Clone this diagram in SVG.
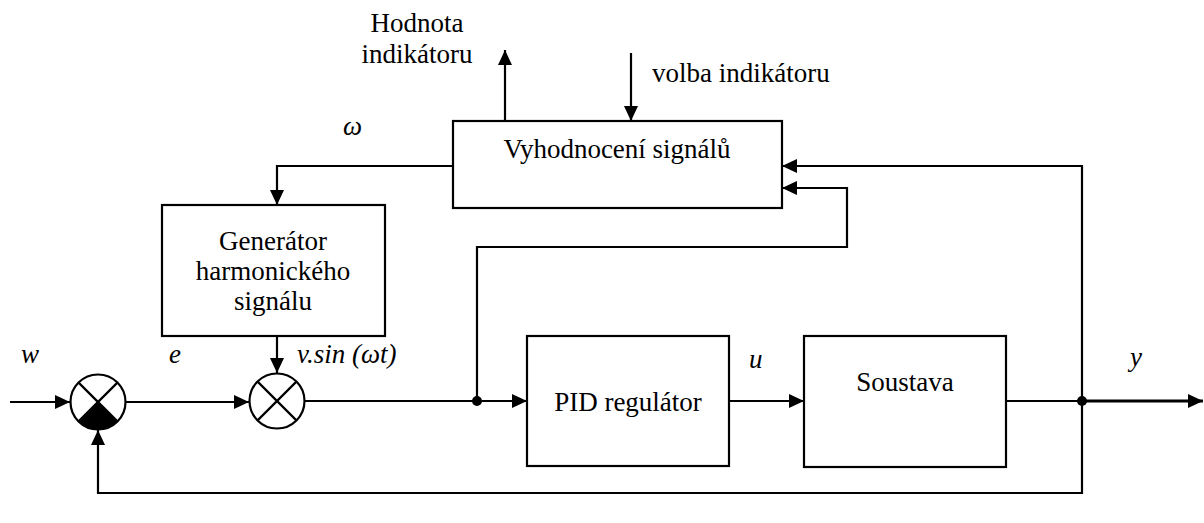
<svg xmlns="http://www.w3.org/2000/svg" width="1204" height="523" viewBox="0 0 1204 523">
<style>
.box{fill:#fff;stroke:#000;stroke-width:2.2}
.ln{fill:none;stroke:#000;stroke-width:2.2}
.t{font-family:'Liberation Serif','DejaVu Serif','Times New Roman',Times,serif;font-size:27px;fill:#000}
.i{font-family:'Liberation Serif','DejaVu Serif','Times New Roman',Times,serif;font-size:27px;font-style:italic;fill:#000}
</style>
<defs>
<marker id="ah" viewBox="0 0 15 14" refX="15" refY="7" markerWidth="15" markerHeight="14" markerUnits="userSpaceOnUse" orient="auto">
<path d="M0,0 L15,7 L0,14 Z" fill="#000"/>
</marker>
</defs>
<rect width="1204" height="523" fill="#fff"/>
<g id="connectors">
<path class="ln" d="M10,402 H70" marker-end="url(#ah)"/>
<path class="ln" d="M125,402 H249" marker-end="url(#ah)"/>
<path class="ln" d="M453,166 H277 V205" marker-end="url(#ah)"/>
<path class="ln" d="M277,336 V373" marker-end="url(#ah)"/>
<path class="ln" d="M304,401 H527" marker-end="url(#ah)"/>
<path class="ln" d="M477,401 V247 H847 V188 H782" marker-end="url(#ah)"/>
<path class="ln" d="M729,401 H804" marker-end="url(#ah)"/>
<path class="ln" d="M1006,401 H1082"/>
<path class="ln" d="M1082,401 H1203" style="stroke-width:3" marker-end="url(#ah)"/>
<path class="ln" d="M1082,401 V166 H782" marker-end="url(#ah)"/>
<path class="ln" d="M1082,401 V493 H98 V430" marker-end="url(#ah)"/>
<path class="ln" d="M505,121 V50" marker-end="url(#ah)"/>
<path class="ln" d="M631,53 V121" marker-end="url(#ah)"/>
<circle cx="477" cy="401" r="5" fill="#000"/>
<circle cx="1082" cy="401" r="5" fill="#000"/>
</g>
<g id="sum1">
<circle cx="98" cy="402" r="27.5" class="box"/>
<path d="M98,402 L78.6,421.4 A27.5,27.5 0 0 0 117.4,421.4 Z" fill="#000"/>
<path class="ln" d="M78.6,382.6 L117.4,421.4 M117.4,382.6 L78.6,421.4"/>
</g>
<g id="sum2">
<circle cx="277" cy="401" r="27.5" class="box"/>
<path class="ln" d="M257.6,381.6 L296.4,420.4 M296.4,381.6 L257.6,420.4"/>
</g>
<g id="vyhodnoceni">
<rect x="453" y="121" width="329" height="87" class="box"/>
<text class="t" x="617" y="158" text-anchor="middle">Vyhodnocení signálů</text>
</g>
<g id="generator">
<rect x="162" y="205" width="223" height="131" class="box"/>
<text class="t" x="273" y="250" text-anchor="middle">Generátor</text>
<text class="t" x="273" y="280" text-anchor="middle">harmonického</text>
<text class="t" x="273" y="310" text-anchor="middle">signálu</text>
</g>
<g id="pid">
<rect x="527" y="336" width="202" height="130" class="box"/>
<text class="t" x="628" y="411" text-anchor="middle">PID regulátor</text>
</g>
<g id="soustava">
<rect x="804" y="336" width="202" height="131" class="box"/>
<text class="t" x="905" y="391" text-anchor="middle">Soustava</text>
</g>
<g id="labels">
<text class="t" x="417" y="32" text-anchor="middle">Hodnota</text>
<text class="t" x="417" y="63" text-anchor="middle">indikátoru</text>
<text class="t" x="652" y="82">volba indikátoru</text>
<text class="i" x="343" y="135">ω</text>
<text class="i" x="21" y="363">w</text>
<text class="i" x="169" y="363">e</text>
<text class="i" x="297" y="363">v.sin (ωt)</text>
<text class="i" x="749" y="368">u</text>
<text class="i" x="1130" y="366">y</text>
</g>
</svg>
